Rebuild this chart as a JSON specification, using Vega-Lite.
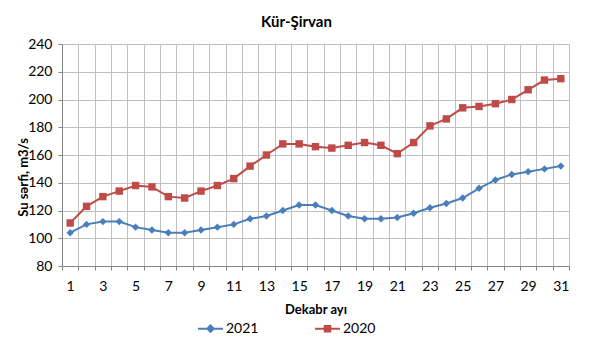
{
  "$schema": "https://vega.github.io/schema/vega-lite/v6.json",
  "width": 507,
  "height": 222,
  "autosize": {"type": "none"},
  "padding": {"left": 62, "top": 44, "right": 24, "bottom": 87},
  "background": "white",
  "config": {
    "font": "Lato",
    "view": {"stroke": null},
    "axis": {"labelFont": "Lato", "labelFontSize": 14, "labelColor": "#000000", "titleFont": "Lato", "titleColor": "#000000", "gridColor": "#c0c0c0", "gridWidth": 1, "domainColor": "#868686", "tickColor": "#868686"}
  },
  "title": {"text": "Kür-Şirvan", "fontSize": 15, "fontWeight": "bold", "font": "Lato", "color": "#000000", "anchor": "middle", "dx": -19, "offset": 7},
  "data": {"values": [
    {"day": 1, "year": "2021", "value": 104}, {"day": 2, "year": "2021", "value": 110}, {"day": 3, "year": "2021", "value": 112}, {"day": 4, "year": "2021", "value": 112},
    {"day": 5, "year": "2021", "value": 108}, {"day": 6, "year": "2021", "value": 106}, {"day": 7, "year": "2021", "value": 104}, {"day": 8, "year": "2021", "value": 104},
    {"day": 9, "year": "2021", "value": 106}, {"day": 10, "year": "2021", "value": 108}, {"day": 11, "year": "2021", "value": 110}, {"day": 12, "year": "2021", "value": 114},
    {"day": 13, "year": "2021", "value": 116}, {"day": 14, "year": "2021", "value": 120}, {"day": 15, "year": "2021", "value": 124}, {"day": 16, "year": "2021", "value": 124},
    {"day": 17, "year": "2021", "value": 120}, {"day": 18, "year": "2021", "value": 116}, {"day": 19, "year": "2021", "value": 114}, {"day": 20, "year": "2021", "value": 114},
    {"day": 21, "year": "2021", "value": 115}, {"day": 22, "year": "2021", "value": 118}, {"day": 23, "year": "2021", "value": 122}, {"day": 24, "year": "2021", "value": 125},
    {"day": 25, "year": "2021", "value": 129}, {"day": 26, "year": "2021", "value": 136}, {"day": 27, "year": "2021", "value": 142}, {"day": 28, "year": "2021", "value": 146},
    {"day": 29, "year": "2021", "value": 148}, {"day": 30, "year": "2021", "value": 150}, {"day": 31, "year": "2021", "value": 152},
    {"day": 1, "year": "2020", "value": 111}, {"day": 2, "year": "2020", "value": 123}, {"day": 3, "year": "2020", "value": 130}, {"day": 4, "year": "2020", "value": 134},
    {"day": 5, "year": "2020", "value": 138}, {"day": 6, "year": "2020", "value": 137}, {"day": 7, "year": "2020", "value": 130}, {"day": 8, "year": "2020", "value": 129},
    {"day": 9, "year": "2020", "value": 134}, {"day": 10, "year": "2020", "value": 138}, {"day": 11, "year": "2020", "value": 143}, {"day": 12, "year": "2020", "value": 152},
    {"day": 13, "year": "2020", "value": 160}, {"day": 14, "year": "2020", "value": 168}, {"day": 15, "year": "2020", "value": 168}, {"day": 16, "year": "2020", "value": 166},
    {"day": 17, "year": "2020", "value": 165}, {"day": 18, "year": "2020", "value": 167}, {"day": 19, "year": "2020", "value": 169}, {"day": 20, "year": "2020", "value": 167},
    {"day": 21, "year": "2020", "value": 161}, {"day": 22, "year": "2020", "value": 169}, {"day": 23, "year": "2020", "value": 181}, {"day": 24, "year": "2020", "value": 186},
    {"day": 25, "year": "2020", "value": 194}, {"day": 26, "year": "2020", "value": 195}, {"day": 27, "year": "2020", "value": 197}, {"day": 28, "year": "2020", "value": 200},
    {"day": 29, "year": "2020", "value": 207}, {"day": 30, "year": "2020", "value": 214}, {"day": 31, "year": "2020", "value": 215}
  ]},
  "encoding": {
    "y": {
      "field": "value", "type": "quantitative",
      "scale": {"domain": [80, 240], "nice": false, "zero": false},
      "axis": {"title": "Su sərfi, m3/s", "titleFontSize": 13, "titleFontWeight": "bold", "values": [80,100,120,140,160,180,200,220,240], "tickSize": 4, "labelPadding": 6, "titleX": -32, "titleY": 133, "titleAngle": -90}
    },
    "color": {
      "field": "year", "type": "nominal",
      "scale": {"domain": ["2021", "2020"], "range": ["#4a7ebb", "#be4b48"]},
      "legend": {
        "title": null, "orient": "none", "direction": "horizontal", "legendX": 135, "legendY": 271,
        "labelFontSize": 14, "labelColor": "#000000", "labelFont": "Lato",
        "symbolSize": 625, "symbolStrokeWidth": 2, "columnPadding": 52, "labelOffset": 2,
        "encode": {"symbols": {"update": {
          "shape": {"signal": "datum.value == '2021' ? 'M-1,0H1M-0.26,0L0,-0.26L0.26,0L0,0.26Z' : 'M-1,0H1M-0.22,-0.22H0.22V0.22H-0.22Z'"},
          "fill": {"signal": "datum.value == '2021' ? '#4a7ebb' : '#be4b48'"},
          "stroke": {"signal": "datum.value == '2021' ? '#4a7ebb' : '#be4b48'"},
          "strokeWidth": {"value": 2},
          "opacity": {"value": 1}
        }}}
      }
    }
  },
  "layer": [
    {
      "mark": {"type": "line", "strokeWidth": 2},
      "encoding": {
        "x": {
          "field": "day", "type": "quantitative",
          "scale": {"domain": [0.5, 31.5], "nice": false, "zero": false},
          "axis": {
            "orient": "bottom", "title": null, "labels": false, "grid": true, "ticks": true, "domain": true, "tickSize": 4,
            "values": [0.5,1.5,2.5,3.5,4.5,5.5,6.5,7.5,8.5,9.5,10.5,11.5,12.5,13.5,14.5,15.5,16.5,17.5,18.5,19.5,20.5,21.5,22.5,23.5,24.5,25.5,26.5,27.5,28.5,29.5,30.5,31.5]
          }
        }
      }
    },
    {
      "transform": [{"filter": "datum.year == '2021'"}],
      "mark": {"type": "point", "filled": true, "opacity": 1, "shape": "diamond", "size": 55},
      "encoding": {
        "x": {
          "field": "day", "type": "quantitative",
          "axis": {
            "orient": "bottom", "title": "Dekabr ayı", "titleFontSize": 13, "titleFontWeight": "bold", "titlePadding": 10,
            "values": [1,3,5,7,9,11,13,15,17,19,21,23,25,27,29,31], "format": "d",
            "grid": false, "ticks": false, "domain": false, "labelPadding": 13,
            "labelOverlap": false, "labelFlush": false, "labelBound": false
          }
        }
      }
    },
    {
      "transform": [{"filter": "datum.year == '2020'"}],
      "mark": {"type": "point", "filled": true, "opacity": 1, "shape": "square", "size": 55},
      "encoding": {
        "x": {"field": "day", "type": "quantitative", "axis": null}
      }
    }
  ],
  "resolve": {"axis": {"x": "independent"}}
}
